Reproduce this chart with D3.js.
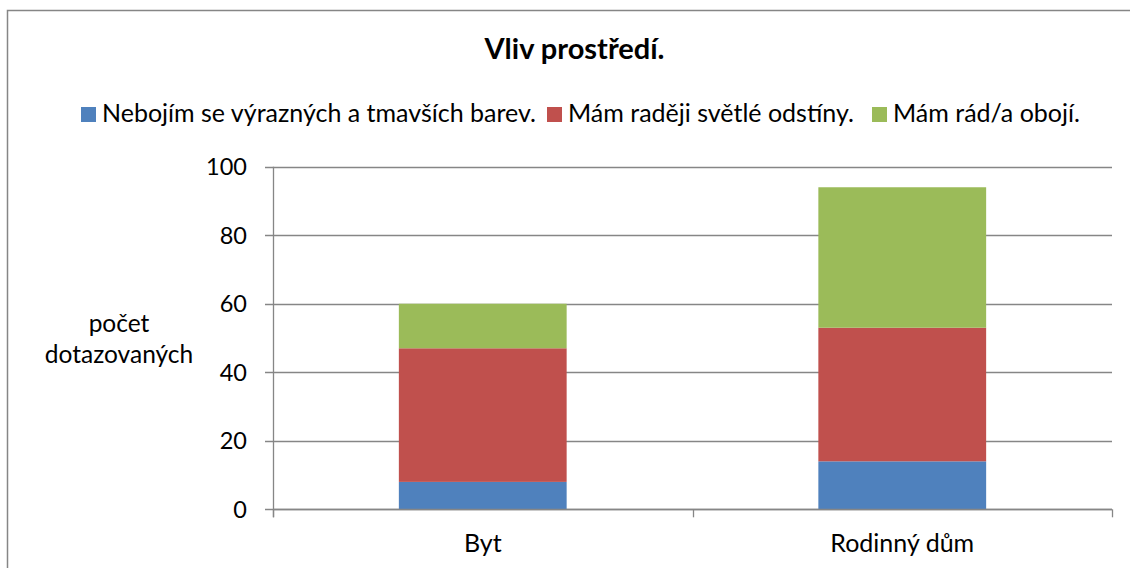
<!DOCTYPE html>
<html><head><meta charset="utf-8">
<script src="https://cdn.jsdelivr.net/npm/d3@7"></script>
<style>html,body{margin:0;background:#fff;overflow:hidden}svg{display:block}text{font-family:Lato,"Open Sans",sans-serif;fill:#000}</style>
</head><body><svg id="c" width="1130" height="568"></svg>
<script>
const categories = ["Byt", "Rodinný dům"];
const seriesNames = ["Nebojím se výrazných a tmavších barev.", "Mám raději světlé odstíny.", "Mám rád/a obojí."];
const darkColors = [8, 14];
const lightShades = [39, 39];
const both = [13, 41];
const yTicks = [0, 20, 40, 60, 80, 100];
const colors = ["#4F81BD", "#C0504D", "#9BBB59"];
const title = "Vliv prostředí.";
const yTitle = ["počet", "dotazovaných"];

const svg = d3.select("#c");
const m = {left: 273, right: 1112, top: 166.7, bottom: 509.3};

svg.append("rect").attr("x", 7.5).attr("y", 10.5).attr("width", 1140).attr("height", 580)
  .attr("fill", "#fff").attr("stroke", "#868686").attr("stroke-width", 1.5);

const rows = categories.map((c, i) => ({cat: c, s0: darkColors[i], s1: lightShades[i], s2: both[i]}));
const stack = d3.stack().keys(["s0", "s1", "s2"])(rows);

const x = d3.scaleBand().domain(categories).range([m.left, m.right]).paddingInner(0.6).paddingOuter(0.3);
const y = d3.scaleLinear().domain([0, 100]).range([m.bottom, m.top]);

// gridlines
svg.append("g").selectAll("line").data(yTicks).join("line")
  .attr("x1", m.left - 8).attr("x2", m.right)
  .attr("y1", d => Math.round(y(d)) + 0.5).attr("y2", d => Math.round(y(d)) + 0.5)
  .attr("stroke", "#868686").attr("stroke-width", 1.3);

// y labels
svg.append("g").selectAll("text").data(yTicks).join("text")
  .attr("x", 247).attr("y", d => y(d)).attr("dy", "0.36em")
  .attr("text-anchor", "end").attr("font-size", 23.5).text(d => d);

// bars
svg.append("g").selectAll("g").data(stack).join("g").attr("fill", (d, i) => colors[i])
  .selectAll("rect").data(d => d).join("rect")
  .attr("x", d => x(d.data.cat)).attr("width", x.bandwidth())
  .attr("y", d => y(d[1])).attr("height", d => y(d[0]) - y(d[1]));

// axes lines
svg.append("line").attr("x1", m.left + 0.5).attr("x2", m.left + 0.5).attr("y1", m.top).attr("y2", m.bottom + 8)
  .attr("stroke", "#868686").attr("stroke-width", 1.3);
svg.append("line").attr("x1", m.left).attr("x2", m.right).attr("y1", Math.round(m.bottom) + 0.5).attr("y2", Math.round(m.bottom) + 0.5)
  .attr("stroke", "#868686").attr("stroke-width", 1.3);
const xTickPos = [m.left, ...categories.slice(1).map(c => x(c) - x.step() * x.paddingInner() / 2), m.right];
svg.append("g").selectAll("line").data(xTickPos).join("line")
  .attr("x1", d => Math.round(d) + 0.5).attr("x2", d => Math.round(d) + 0.5)
  .attr("y1", m.bottom).attr("y2", m.bottom + 8)
  .attr("stroke", "#868686").attr("stroke-width", 1.3);

// x labels
svg.append("g").selectAll("text").data(categories).join("text")
  .attr("x", d => x(d) + x.bandwidth() / 2).attr("y", 552)
  .attr("text-anchor", "middle").attr("font-size", 25).text(d => d);

// y title
svg.append("text").attr("text-anchor", "middle").attr("font-size", 24.5)
  .selectAll("tspan").data(yTitle).join("tspan").attr("x", 119).attr("y", (d, i) => 332 + i * 31).text(d => d);

// title
svg.append("text").attr("x", 574.5).attr("y", 59).attr("text-anchor", "middle")
  .attr("font-size", 29).attr("font-weight", "bold").text(title);

// legend
const legX = [81, 547, 872];
const lg = svg.append("g").selectAll("g").data(seriesNames).join("g")
  .attr("transform", (d, i) => `translate(${legX[i]},0)`);
lg.append("rect").attr("x", 0).attr("y", 107).attr("width", 15).attr("height", 15).attr("fill", (d, i) => colors[i]);
lg.append("text").attr("x", 21).attr("y", 121.5).attr("font-size", 25).text(d => d);
</script></body></html>
